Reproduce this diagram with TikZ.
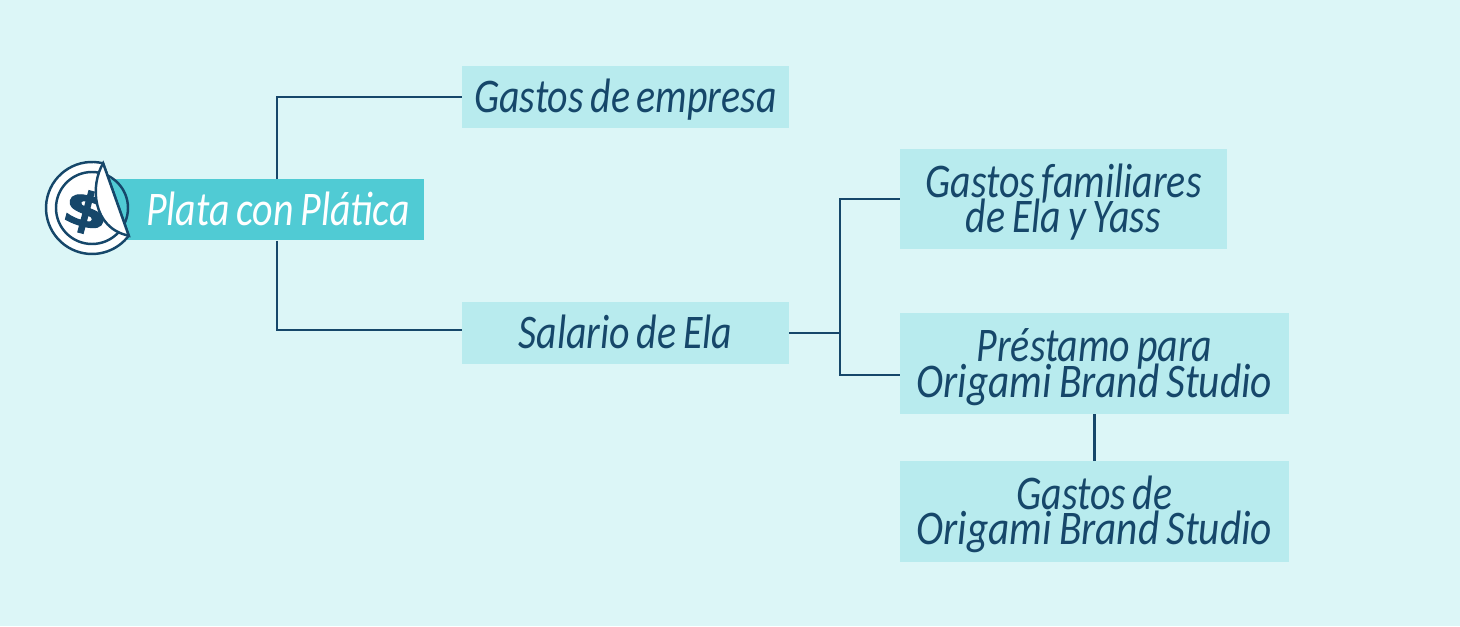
\documentclass[tikz,border=0pt]{standalone}
\usepackage{fontspec}
\setmainfont[FakeStretch=0.825,WordSpace=0.75]{Carlito}
\newfontfamily\signofont[BoldFeatures={FakeBold=2}]{DejaVu Sans}
\newcommand{\renglon}{\leavevmode\vrule height 24pt depth 6pt width 0pt\relax}
\newcommand{\bajar}[1]{\raisebox{-10pt}[0pt][0pt]{#1}}
\newcommand{\estudio}{{\addfontfeature{FakeStretch=0.855}Origami Brand Studio}}
\definecolor{fondo}{HTML}{DCF6F7}
\definecolor{caja}{HTML}{B8EBEE}
\definecolor{turquesa}{HTML}{50CBD4}
\definecolor{tinta}{HTML}{16476A}
\lineskiplimit=-100pt
\tikzset{
  caja/.style={fill=caja, text=tinta, inner sep=0pt, align=center, font=\fontsize{27.5}{20}\selectfont\itshape,
    execute at begin node=\renglon, execute at end node=\renglon},
  linea/.style={tinta, line width=1.15pt},
  sello/.style={tinta, line width=1.4pt},
}
\begin{document}
\begin{tikzpicture}
	\fill [fondo] (0,0) rectangle (29.2,12.52);
	\useasboundingbox (0,0) rectangle (29.2,12.52);
	% cajas
	\node [caja, minimum width=6.28cm, minimum height=1.22cm, fill=turquesa, text=white] (plata) at (5.34,8.32) {\hspace*{0.44cm}Plata con Plática};
	\node [caja, minimum width=6.54cm, minimum height=1.24cm] (empresa) at (12.51,10.58) {Gastos de empresa};
	\node [caja, minimum width=6.54cm, minimum height=1.24cm] (salario) at (12.51,5.86) {Salario de Ela};
	\node [caja, minimum width=6.53cm, minimum height=2cm] (familiares) at (21.27,8.54) {\bajar{Gastos familiares}\\\bajar{de Ela y Yass}};
	\node [caja, minimum width=7.77cm, minimum height=2.01cm] (prestamo) at (21.89,5.245) {\bajar{Préstamo para}\\\bajar{\estudio}};
	\node [caja, minimum width=7.77cm, minimum height=2.02cm] (origami) at (21.89,2.29) {\bajar{Gastos de}\\\bajar{\estudio}};
	% conectores
	\coordinate (troncoA) at (5.54,8.32);
	\coordinate (troncoB) at (16.8,5.86);
	\draw [linea] (troncoA |- plata.north) |- (empresa.west);
	\draw [linea] (troncoA |- plata.south) |- ([yshift=0.06cm]salario.west);
	\draw [linea] (salario.east) -- (troncoB);
	\draw [linea] (troncoB) |- (familiares.west);
	\draw [linea] (troncoB) |- ([yshift=-0.23cm]prestamo.west);
	\draw [linea] (prestamo.south) -- (origami.north);
	% sello con la esquina doblada
	\coordinate (dobleA) at (2.063,9.253);
	\coordinate (dobleB) at (2.575,7.806);
	\draw [sello, fill=white] (dobleA) arc [start angle=76, end angle=323, radius=0.92] -- cycle;
	\draw [sello] (1.84,8.36) circle (0.72);
	\node [text=tinta, inner sep=0pt, rotate=-15, xscale=1.4, font=\fontsize{27}{27}\signofont\bfseries] (signo) at (1.72,8.28) {\$};
	\draw [sello, fill=white] (dobleA) .. controls (1.80,8.82) and (1.84,7.96) .. (dobleB) -- cycle;
\end{tikzpicture}
\end{document}
